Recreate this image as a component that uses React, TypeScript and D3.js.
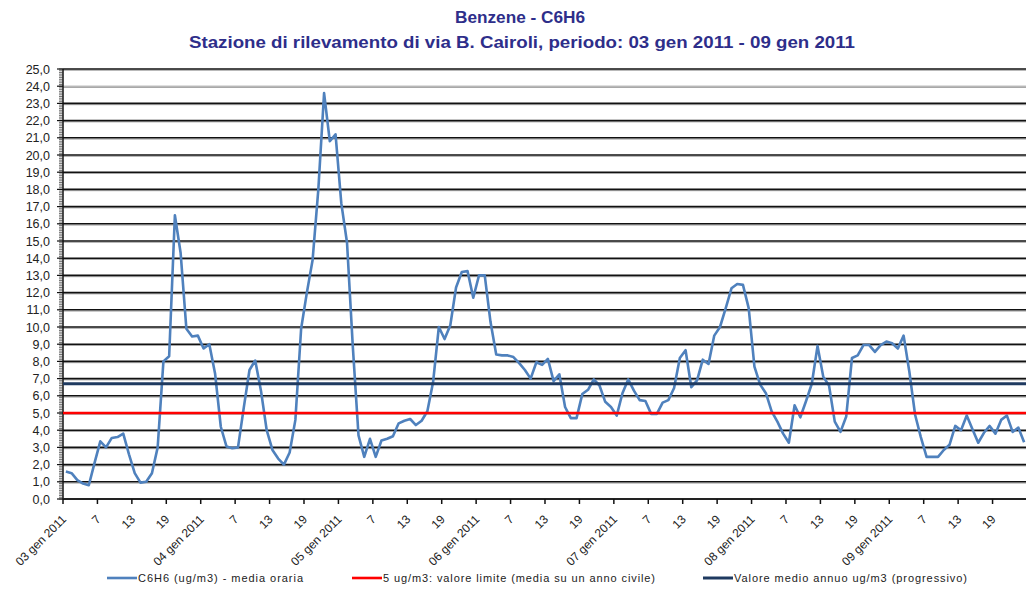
import React from 'react';
import { scaleLinear, line, formatLocale } from 'd3';

// hourly benzene values (ug/m3), one array per day
const day03 = [1.6, 1.5, 1.1, 0.9, 0.8, 2.1, 3.35, 3.0, 3.55, 3.6, 3.8, 2.6, 1.5, 0.95, 1.0, 1.5, 3.0, 8.0, 8.3, 16.5, 14.3, 9.9, 9.45, 9.5];
const day04 = [8.75, 9.0, 7.3, 4.2, 3.05, 2.95, 3.0, 5.3, 7.5, 8.05, 6.3, 4.0, 2.85, 2.35, 2.0, 2.7, 4.6, 9.9, 12.0, 13.9, 18.0, 23.6, 20.8, 21.2];
const day05 = [17.2, 14.9, 8.9, 3.7, 2.45, 3.5, 2.45, 3.4, 3.5, 3.65, 4.4, 4.55, 4.65, 4.3, 4.55, 5.1, 6.8, 10.0, 9.3, 10.1, 12.3, 13.2, 13.25, 11.7];
const day06 = [13.0, 13.0, 10.3, 8.4, 8.35, 8.35, 8.25, 7.9, 7.5, 7.0, 7.95, 7.8, 8.15, 6.85, 7.25, 5.35, 4.7, 4.7, 6.1, 6.35, 6.95, 6.6, 5.65, 5.35];
const day07 = [4.85, 6.15, 6.95, 6.3, 5.75, 5.7, 4.95, 4.95, 5.6, 5.75, 6.45, 8.2, 8.65, 6.5, 6.9, 8.1, 7.85, 9.5, 10.0, 11.1, 12.25, 12.5, 12.45, 11.1];
const day08 = [7.7, 6.65, 6.15, 5.1, 4.5, 3.8, 3.27, 5.45, 4.75, 5.7, 6.7, 8.9, 7.1, 6.6, 4.5, 3.9, 4.8, 8.2, 8.35, 8.95, 8.95, 8.55, 8.95, 9.15];
const day09 = [9.05, 8.75, 9.5, 7.4, 4.9, 3.6, 2.45, 2.45, 2.45, 2.85, 3.15, 4.25, 4.0, 4.85, 4.05, 3.27, 3.85, 4.25, 3.8, 4.6, 4.85, 3.9, 4.15, 3.3];

const dayLabels = ['03 gen 2011', '04 gen 2011', '05 gen 2011', '06 gen 2011', '07 gen 2011', '08 gen 2011', '09 gen 2011'];
const hourLabels = ['7', '13', '19'];

const limitValue = [5.0];
const annualMean = [6.7];

const titleLines = ['Benzene - C6H6', 'Stazione di rilevamento di via B. Cairoli, periodo: 03 gen 2011 - 09 gen 2011'];
const legendLabels = [
  'C6H6 (ug/m3)  - media oraria',
  '5 ug/m3: valore limite (media su un anno civile)',
  'Valore medio annuo ug/m3 (progressivo)',
];

const W = 1026;
const H = 589;
const plot = { left: 63, top: 69, bottom: 499 };
const hourW = 5.738;

const values = [...day03, ...day04, ...day05, ...day06, ...day07, ...day08, ...day09];
const tickLabels = dayLabels.flatMap((d) => [d, ...hourLabels]);

const it = formatLocale({ decimal: ',', thousands: '.', grouping: [3], currency: ['', ' €'] });
const fmt = it.format('.1f');

const font = '"Liberation Sans", Arial, sans-serif';

export default function App() {
  const x = scaleLinear().domain([0, values.length]).range([plot.left, plot.left + values.length * hourW]);
  const y = scaleLinear().domain([0, 25]).range([plot.bottom, plot.top]);
  const right = x(values.length);

  const majors = y.ticks(25);
  const minors = y.ticks(250);

  const path = line<number>()
    .x((_, i) => x(i + 0.5))
    .y((d) => y(d))(values);

  const legendY = 578;
  const legendItems = [
    { x: 107, color: '#4F81BD', w: 2.6, label: legendLabels[0], len: 165 },
    { x: 352, color: '#FF0000', w: 2.6, label: legendLabels[1], len: 272 },
    { x: 703, color: '#1F3A60', w: 3, label: legendLabels[2], len: 233 },
  ];

  return (
    <svg width={W} height={H} style={{ position: 'absolute', left: 0, top: 0, background: '#fff' }}>
      <g fill="#2E2E8A" fontFamily={font} fontWeight="bold" fontSize={16} textAnchor="middle">
        <text x={520} y={23} textLength={130} lengthAdjust="spacingAndGlyphs">{titleLines[0]}</text>
        <text x={522} y={48} textLength={666} lengthAdjust="spacingAndGlyphs">{titleLines[1]}</text>
      </g>

      {/* gridlines */}
      {majors.filter((t) => t > 0).map((t) => (
        <g key={t}>
          <line x1={plot.left} x2={right} y1={y(t) + 1.3} y2={y(t) + 1.3} stroke="#a8a8a8" strokeWidth={1} />
          <line x1={plot.left} x2={right} y1={y(t)} y2={y(t)} stroke={t === 24 ? '#999' : '#111'} strokeWidth={t === 24 ? 1 : 1.6} />
        </g>
      ))}

      {/* y axis */}
      <line x1={plot.left} x2={plot.left} y1={plot.top} y2={plot.bottom} stroke="#111" strokeWidth={1.5} />
      {minors.map((t) => (
        <line key={'m' + t} x1={plot.left - 4} x2={plot.left} y1={y(t)} y2={y(t)} stroke="#333" strokeWidth={0.7} />
      ))}
      {majors.map((t) => (
        <g key={'l' + t}>
          <line x1={plot.left - 6} x2={plot.left} y1={y(t)} y2={y(t)} stroke="#111" strokeWidth={1.2} />
          <text x={50} y={y(t) + 4.5} textAnchor="end" fontFamily={font} fontSize={12.5} fill="#222">{fmt(t)}</text>
        </g>
      ))}

      {/* x axis */}
      <line x1={plot.left} x2={right} y1={plot.bottom} y2={plot.bottom} stroke="#222" strokeWidth={2} />
      {tickLabels.map((lab, k) => {
        const tx = x(k * 6);
        return (
          <g key={'x' + k}>
            <line x1={tx} x2={tx} y1={plot.bottom} y2={plot.bottom + 5} stroke="#111" strokeWidth={1.5} />
            <text
              transform={`translate(${tx + 4},${plot.bottom + 21}) rotate(-45)`}
              textAnchor="end"
              fontFamily={font}
              fontSize={12}
              fill="#222"
            >
              {lab}
            </text>
          </g>
        );
      })}

      {/* series */}
      <path d={path ?? ''} fill="none" stroke="#4F81BD" strokeWidth={2.6} strokeLinejoin="round" />
      {limitValue.map((v) => (
        <line key={'lim' + v} x1={plot.left} x2={right} y1={y(v)} y2={y(v)} stroke="#FF0000" strokeWidth={2.6} />
      ))}
      {annualMean.map((v) => (
        <line key={'mean' + v} x1={plot.left} x2={right} y1={y(v)} y2={y(v)} stroke="#1F3A60" strokeWidth={3} />
      ))}

      {/* legend */}
      {legendItems.map((it) => (
        <g key={it.label}>
          <line x1={it.x} x2={it.x + 30} y1={legendY} y2={legendY} stroke={it.color} strokeWidth={it.w} />
          <text x={it.x + 31} y={legendY + 4} fontFamily={font} fontSize={11} fill="#222" textLength={it.len} lengthAdjust="spacing">{it.label}</text>
        </g>
      ))}
    </svg>
  );
}
